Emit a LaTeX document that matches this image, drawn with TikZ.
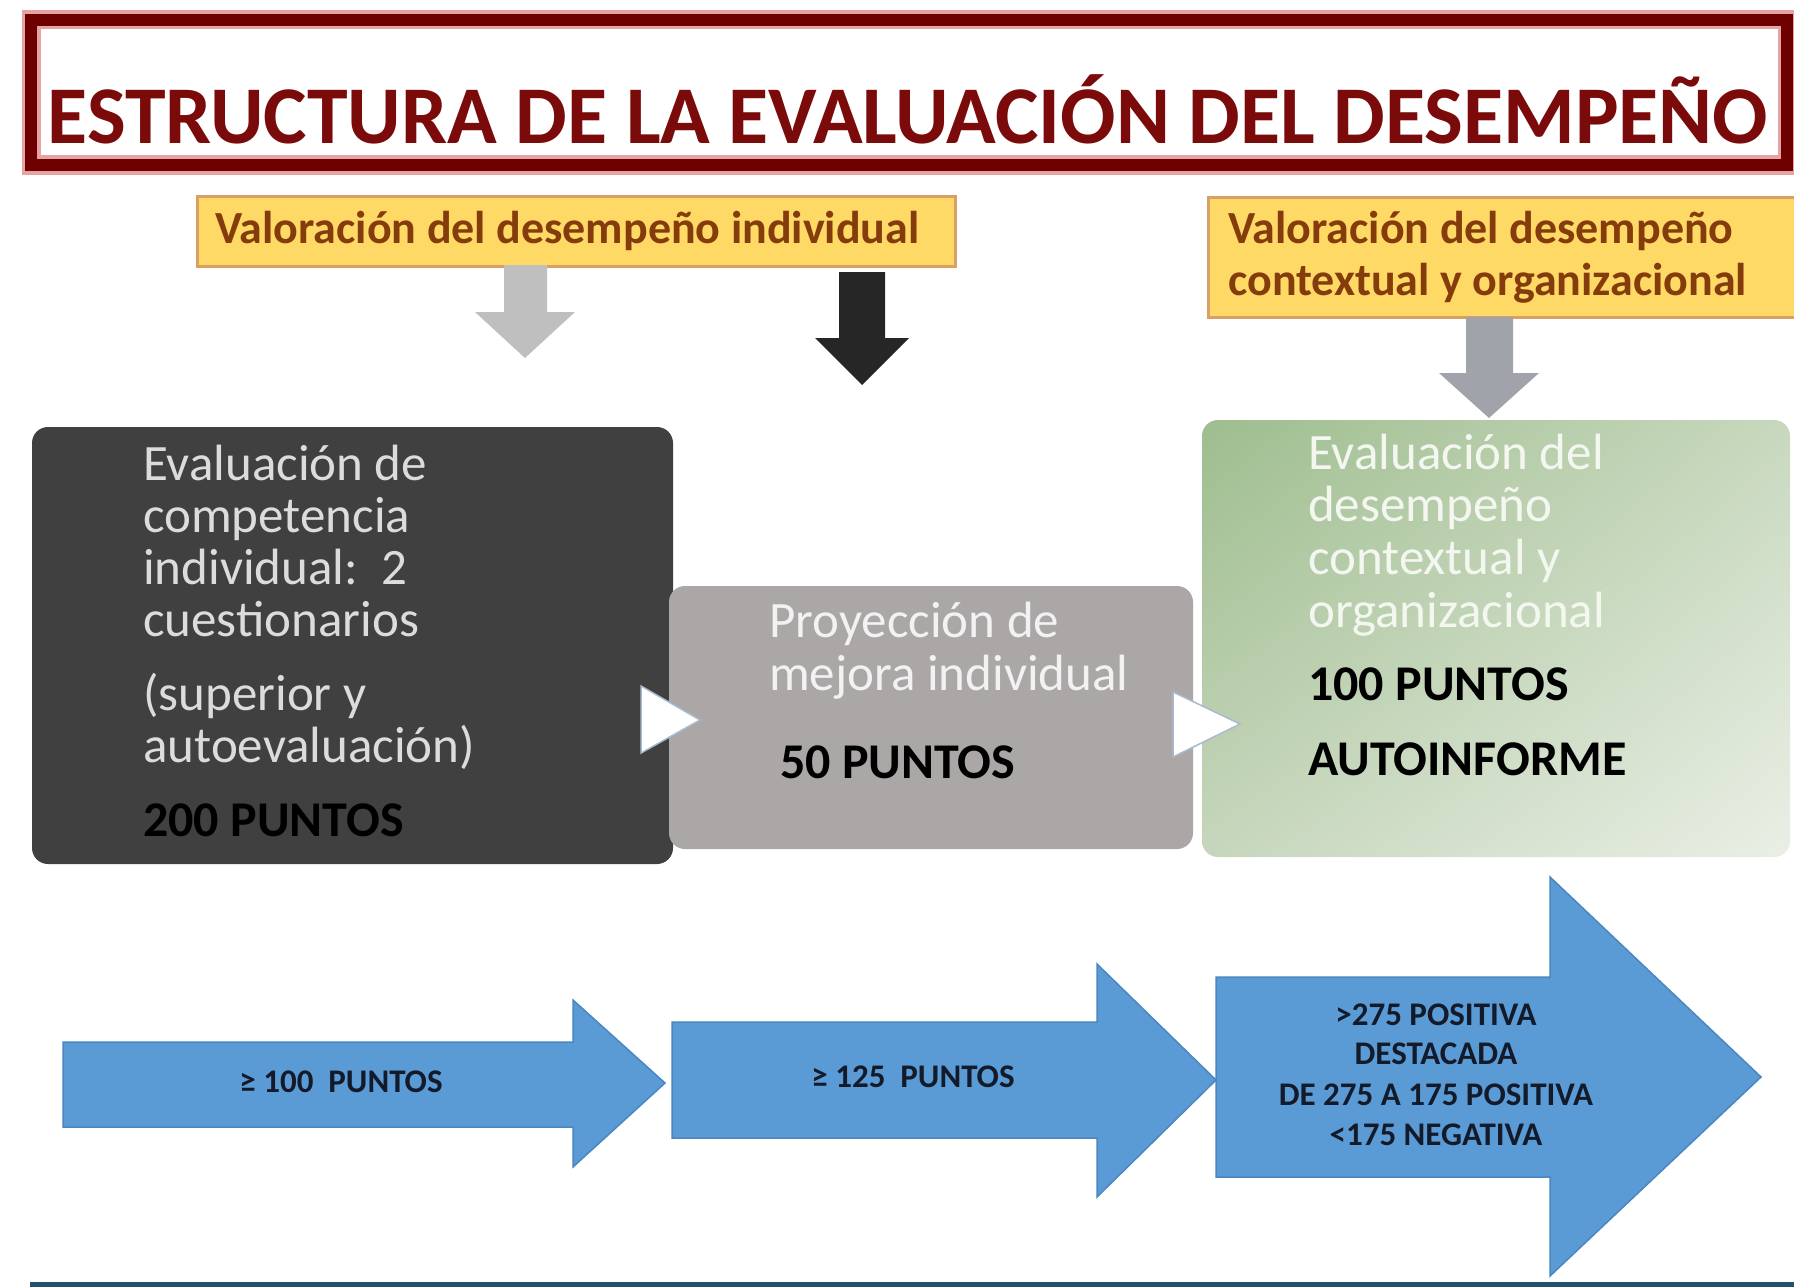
\documentclass[tikz,border=0pt]{standalone}
\usepackage{fontspec}
\setmainfont{Carlito}
\usetikzlibrary{shadings}
\definecolor{frame}{HTML}{6E0000}
\definecolor{framehalo}{HTML}{E6A3A3}
\definecolor{titlered}{HTML}{7B0A0A}
\definecolor{ylfill}{HTML}{FFD966}
\definecolor{ylline}{HTML}{D9A066}
\definecolor{yltext}{HTML}{843C0C}
\definecolor{darkbox}{HTML}{404040}
\definecolor{graybox}{HTML}{ABA7A7}
\definecolor{lighttext}{HTML}{DCDCDC}
\definecolor{graytext}{HTML}{F2F2F2}
\definecolor{greentext}{HTML}{F3F7F0}
\definecolor{gUL}{HTML}{9EBD8E}
\definecolor{gUR}{HTML}{C8D8BE}
\definecolor{gLL}{HTML}{C6D6BC}
\definecolor{gLR}{HTML}{E9EFE5}
\definecolor{arrowA}{HTML}{BFBFBF}
\definecolor{arrowB}{HTML}{262626}
\definecolor{arrowC}{HTML}{A0A4AA}
\definecolor{blueA}{HTML}{5B9BD5}
\definecolor{blueL}{HTML}{4A86C2}
\definecolor{bluetext}{HTML}{131B2B}
\definecolor{triline}{HTML}{A9B9CF}
\definecolor{rulecolor}{HTML}{24506B}
\begin{document}
\begin{tikzpicture}[x=1pt,y=-1pt,
  yellowbox/.style={draw=ylline, fill=ylfill, line width=3, inner sep=0},
  ylabel/.style={anchor=base west, inner sep=0, text=yltext, font=\fontsize{46}{52}\selectfont\bfseries},
  boxtext/.style={anchor=base west, inner sep=0, font=\fontsize{51}{60}\selectfont},
  pointtext/.style={anchor=base west, inner sep=0, text=black, font=\fontsize{50}{60}\selectfont\bfseries},
  bluetxt/.style={anchor=base, inner sep=0, text=bluetext, font=\fontsize{33}{38}\selectfont\bfseries},
  bluearrow/.style={fill=blueA, draw=blueL, line width=1.5},
  tri/.style={fill=white, draw=triline, line width=1.5},
  panel/.style={rounded corners=16, inner sep=0, draw=none}]
\useasboundingbox (0,0) rectangle (1794,1287);
\fill[white] (0,0) rectangle (1794,1287);

% title frame
\draw[framehalo, line width=19] (31,20) rectangle (1787,165);
\draw[frame, line width=12] (31,20) rectangle (1787,165);
\node[anchor=base, inner sep=0, text=titlered, font=\fontsize{82}{90}\selectfont\bfseries] (title) at (908,143) {ESTRUCTURA DE LA EVALUACIÓN DEL DESEMPEÑO};

% yellow label boxes
\node[yellowbox, minimum width=758, minimum height=70] (y1) at (576,231) {};
\node[ylabel] (y1t) at (215,243) {Valoración del desempeño individual};
\node[yellowbox, minimum width=600, minimum height=120] (y2) at (1508,257) {};
\node[ylabel] (y2a) at (1228,243) {Valoración del desempeño};
\node[ylabel] (y2b) at (1228,295) {contextual y organizacional};

% down block arrows
\fill[arrowA] (504,265) -- (547,265) -- (547,312) -- (575,312) -- (525,358) -- (475,312) -- (504,312) -- cycle;
\fill[arrowB] (839,272) -- (885,272) -- (885,338) -- (909,338) -- (862,385) -- (815,338) -- (839,338) -- cycle;
\fill[arrowC] (1466,317) -- (1513,317) -- (1513,373) -- (1539,373) -- (1489,418) -- (1439,373) -- (1466,373) -- cycle;

% panels
\node[panel, fill=darkbox, minimum width=641, minimum height=437] (dark) at (352.5,645.5) {};
\node[panel, fill=graybox, minimum width=524, minimum height=263] (gray) at (931,717.5) {};
\node[panel, upper left=gUL, upper right=gUR, lower left=gLL, lower right=gLR, minimum width=588, minimum height=437] (green) at (1496,638.5) {};

% connecting triangles
\coordinate (t1a) at (641,686); \coordinate (t1b) at (700,720); \coordinate (t1c) at (641,753);
\draw[tri] (t1a) -- (t1b) -- (t1c) -- cycle;
\coordinate (t2a) at (1173,692); \coordinate (t2b) at (1240,724); \coordinate (t2c) at (1173,757);
\draw[tri] (t2a) -- (t2b) -- (t2c) -- cycle;

% dark panel text
\node[boxtext, text=lighttext] (d1) at (143,480) {Evaluación de};
\node[boxtext, text=lighttext] (d2) at (143,532) {competencia};
\node[boxtext, text=lighttext] (d3) at (143,584) {individual:\ \ 2};
\node[boxtext, text=lighttext] (d4) at (143,636) {cuestionarios};
\node[boxtext, text=lighttext] (d5) at (143,710) {(superior y};
\node[boxtext, text=lighttext] (d6) at (143,762) {autoevaluación)};
\node[pointtext] (d7) at (143,836) {200 PUNTOS};

% gray panel text
\node[boxtext, text=graytext] (g1) at (769,637) {Proyección de};
\node[boxtext, text=graytext] (g2) at (769,690) {mejora individual};
\node[pointtext] (g3) at (780,778) {50 PUNTOS};

% green panel text
\node[boxtext, text=greentext] (e1) at (1308,469) {Evaluación del};
\node[boxtext, text=greentext] (e2) at (1308,521) {desempeño};
\node[boxtext, text=greentext] (e3) at (1308,574) {contextual y};
\node[boxtext, text=greentext] (e4) at (1308,627) {organizacional};
\node[pointtext] (e5) at (1308,700) {100 PUNTOS};
\node[pointtext] (e6) at (1308,775) {AUTOINFORME};

% blue arrows
\draw[bluearrow] (63,1042) -- (573,1042) -- (573,1000) -- (665,1083) -- (573,1167) -- (573,1127) -- (63,1127) -- cycle;
\draw[bluearrow] (672,1022) -- (1097,1022) -- (1097,964) -- (1216,1080) -- (1097,1197) -- (1097,1138) -- (672,1138) -- cycle;
\draw[bluearrow] (1216,977) -- (1550,977) -- (1550,877) -- (1761,1077) -- (1550,1276) -- (1550,1177) -- (1216,1177) -- cycle;
\node[bluetxt] (b1) at (341,1092) {≥ 100\ \ PUNTOS};
\node[bluetxt] (b2) at (913,1087) {≥ 125\ \ PUNTOS};
\node[bluetxt] (b3a) at (1436,1025) {>275 POSITIVA};
\node[bluetxt] (b3b) at (1436,1064) {DESTACADA};
\node[bluetxt] (b3c) at (1436,1105) {DE 275 A 175 POSITIVA};
\node[bluetxt] (b3d) at (1436,1145) {<175 NEGATIVA};

% bottom rule
\draw[rulecolor, line width=6] (30,1285) -- (1794,1285);
\end{tikzpicture}
\end{document}
